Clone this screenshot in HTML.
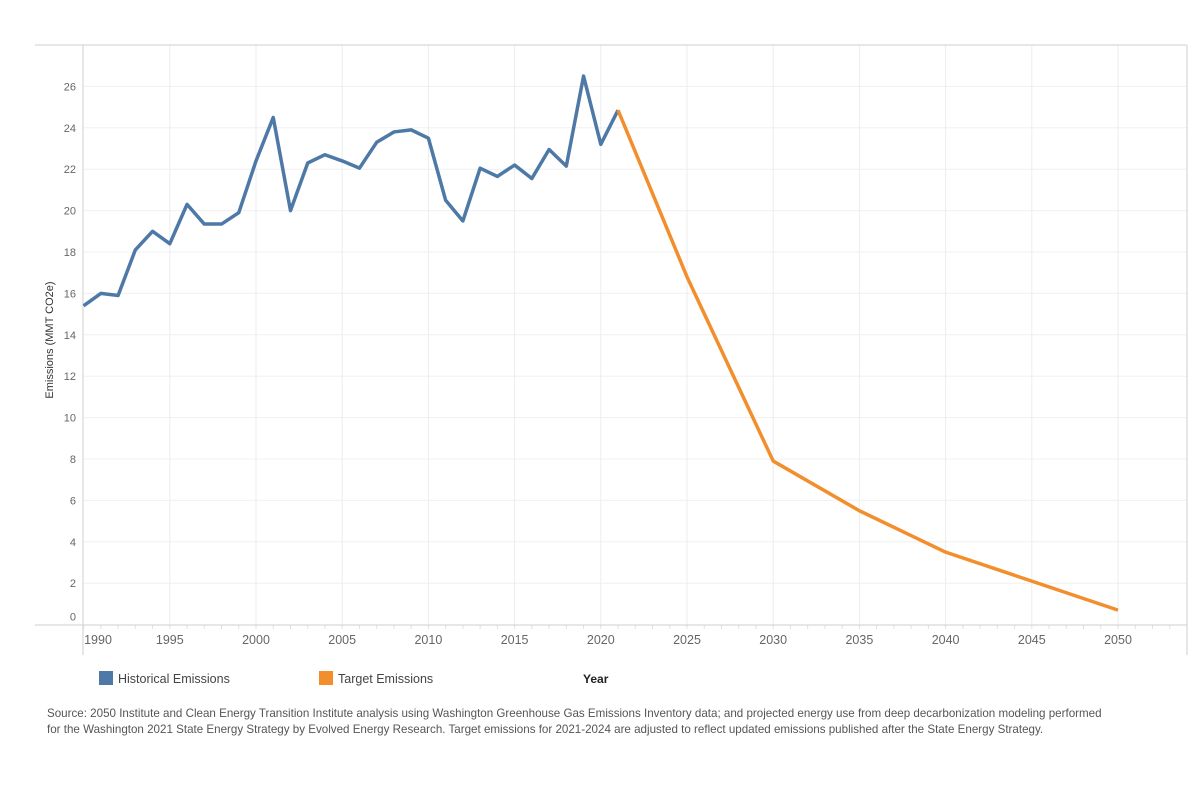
<!DOCTYPE html>
<html><head><meta charset="utf-8"><style>
body{margin:0;background:#fff;font-family:"Liberation Sans",sans-serif;}
</style></head><body>
<svg width="1200" height="800" xmlns="http://www.w3.org/2000/svg">
<g id="grid"></g>
<g id="axes"></g>
<g id="series"></g>
<text transform="translate(53,340) rotate(-90)" text-anchor="middle" font-size="11" fill="#333">Emissions (MMT CO2e)</text>
<rect x="99" y="671" width="14" height="14" fill="#4e79a7"/>
<text x="118" y="683" font-size="12.5" fill="#444">Historical Emissions</text>
<rect x="319" y="671" width="14" height="14" fill="#f28e2b"/>
<text x="338" y="683" font-size="12.5" fill="#444">Target Emissions</text>
<text x="583" y="683" font-size="12" font-weight="bold" fill="#222">Year</text>
<text font-size="11.6" fill="#555"><tspan x="47" y="717">Source: 2050 Institute and Clean Energy Transition Institute analysis using Washington Greenhouse Gas Emissions Inventory data; and projected energy use from deep decarbonization modeling performed</tspan><tspan x="47" y="733">for the Washington 2021 State Energy Strategy by Evolved Energy Research. Target emissions for 2021-2024 are adjusted to reflect updated emissions published after the State Energy Strategy.</tspan></text>
</svg>
<script>
const histYears=[1990,1991,1992,1993,1994,1995,1996,1997,1998,1999,2000,2001,2002,2003,2004,2005,2006,2007,2008,2009,2010,2011,2012,2013,2014,2015,2016,2017,2018,2019,2020,2021];
const histValues=[15.4,16.0,15.9,18.1,19.0,18.4,20.3,19.35,19.35,19.9,22.4,24.5,20.0,22.3,22.7,22.4,22.05,23.3,23.8,23.9,23.5,20.5,19.5,22.05,21.65,22.2,21.55,22.95,22.15,26.5,23.2,24.85];
const targetYears=[2021,2025,2030,2035,2040,2045,2050];
const targetValues=[24.85,16.8,7.9,5.5,3.5,2.1,0.7];
const xTicks=[1990,1995,2000,2005,2010,2015,2020,2025,2030,2035,2040,2045,2050];
const yTicks=[0,2,4,6,8,10,12,14,16,18,20,22,24,26];
const NS="http://www.w3.org/2000/svg";
const x=y=>83.6+17.24*(y-1990);
const yv=v=>624.6-20.7*v;
function mk(tag,attrs,parent,txt){const e=document.createElementNS(NS,tag);for(const k in attrs)e.setAttribute(k,attrs[k]);if(txt!==undefined)e.textContent=txt;parent.appendChild(e);return e;}
const grid=document.getElementById('grid'),axes=document.getElementById('axes'),series=document.getElementById('series');
yTicks.forEach(t=>{
 if(t>0){const g=mk('line',{x1:83,x2:1187,y1:yv(t),y2:yv(t),stroke:'#f0f0f0','stroke-width':1},grid);
 
 }
 const l=mk('text',{x:76,y:(t===0?yv(t)-8:yv(t))+4,'text-anchor':'end','font-size':11,fill:'#666'},axes,String(t));
 
 
});
xTicks.forEach(t=>{
 if(t>1990){const g=mk('line',{x1:x(t),x2:x(t),y1:45,y2:625,stroke:'#ededed','stroke-width':1},grid);
 
 }
 const l=mk('text',{x:t===1990?98:x(t),y:644,'text-anchor':'middle','font-size':12.5,fill:'#666'},axes,String(t));
 
 
});
for(let yr=1990;yr<=2055;yr++){const tk=mk('line',{x1:x(yr),x2:x(yr),y1:625,y2:629,stroke:'#e0e0e0'},axes);
 
 }
[[35,45,1187,45],[83,45,83,655],[1187,45,1187,655],[35,625,1187,625]].forEach(a=>{
 const l=mk('line',{x1:a[0],y1:a[1],x2:a[2],y2:a[3],stroke:'#cfcfcf','stroke-width':1},axes);
 
 
});
const hp=mk('polyline',{points:histYears.map((d,i)=>x(d)+','+yv(histValues[i])).join(' '),fill:'none',stroke:'#4e79a7','stroke-width':3.5,'stroke-linejoin':'round'},series);


const tp=mk('polyline',{points:targetYears.map((d,i)=>x(d)+','+yv(targetValues[i])).join(' '),fill:'none',stroke:'#f28e2b','stroke-width':3.5,'stroke-linejoin':'round'},series);


</script>
</body></html>
